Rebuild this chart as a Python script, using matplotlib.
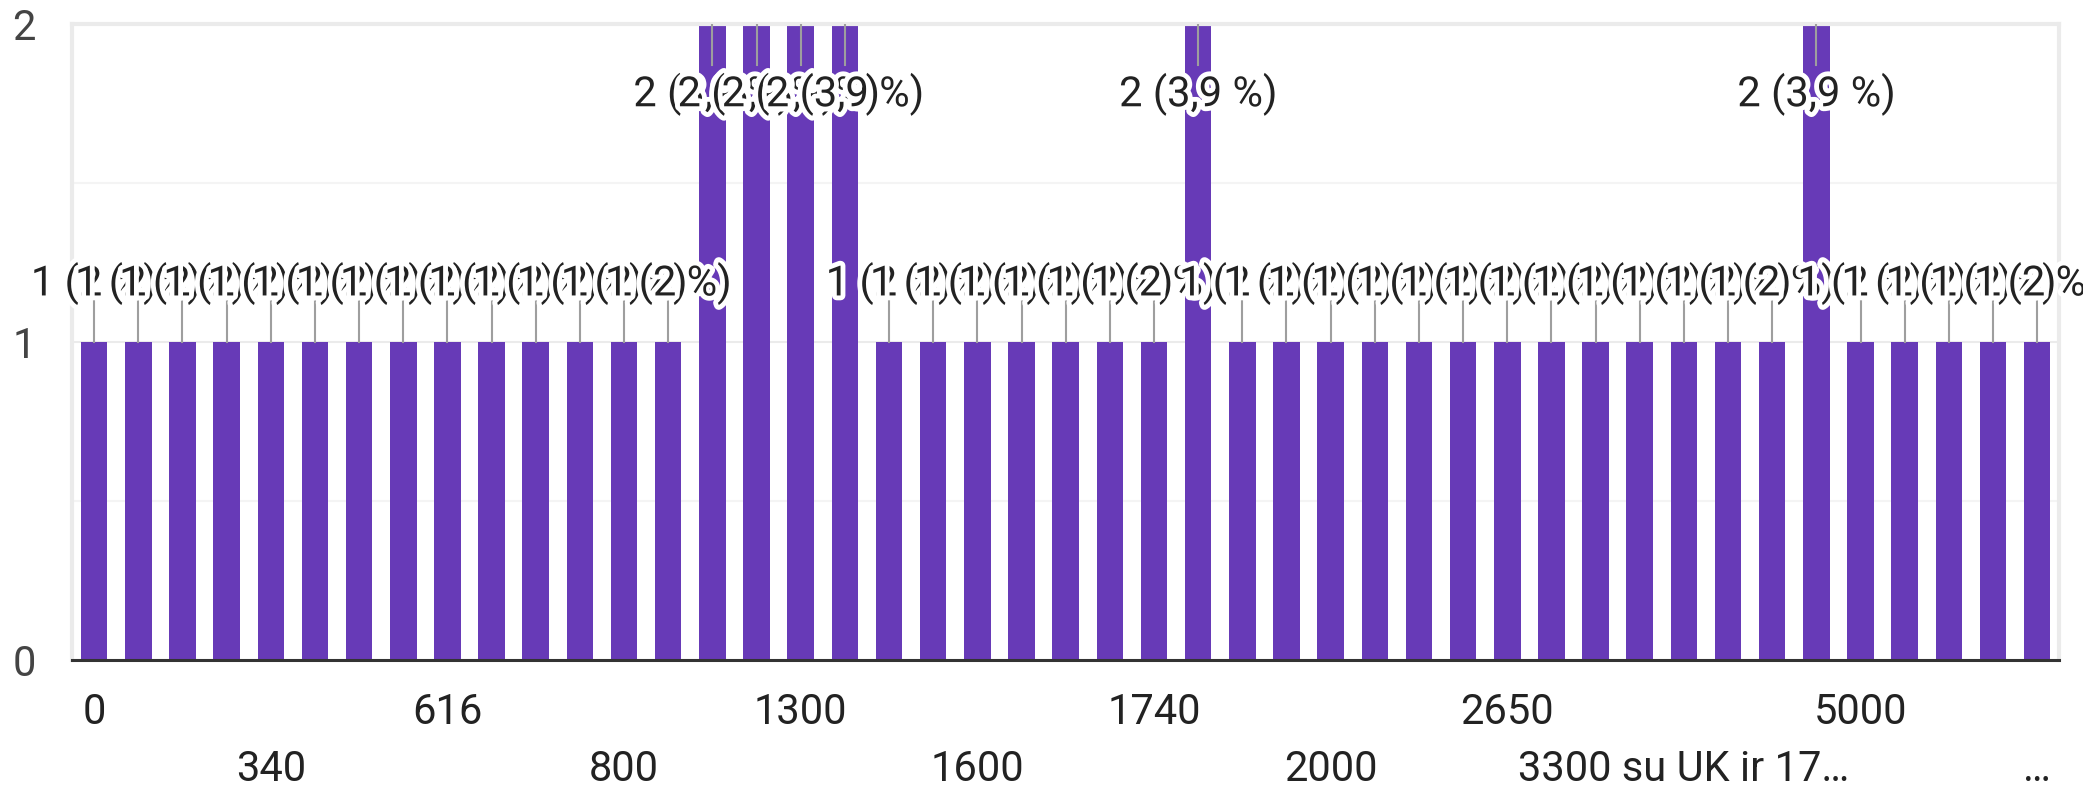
import matplotlib.pyplot as plt
import matplotlib.patheffects as pe
from matplotlib.ticker import MultipleLocator

plt.rcParams["font.family"] = ["Roboto", "DejaVu Sans"]

# answers (only every 4th label is readable on the chart)
categories = [
    "0", "50", "100", "150", "340", "400", "450", "500",
    "616", "650", "700", "750", "800", "1000", "1100", "1200",
    "1300", "1400", "1450", "1500", "1600", "1650", "1700", "1720",
    "1740", "1750", "1800", "1900", "2000", "2100", "2200", "2500",
    "2650", "2800", "3000", "3200", "3300 su UK ir 17…", "3500", "4000", "4500",
    "5000", "6000", "7000", "10000", "…",
]
counts = [
    1, 1, 1, 1, 1, 1, 1, 1, 1, 1, 1, 1, 1, 1, 2, 2,
    2, 2, 1, 1, 1, 1, 1, 1, 1, 2, 1, 1, 1, 1, 1, 1,
    1, 1, 1, 1, 1, 1, 1, 2, 1, 1, 1, 1, 1,
]
y_ticks = [0, 1, 2]

total = sum(counts)
ymax = max(y_ticks)

fig = plt.figure(figsize=(20.83, 7.87), dpi=100)
ax = fig.add_axes([0.0346, 0.1614, 0.954, 0.808])

xs = list(range(len(categories)))
ax.bar(xs, counts, width=0.6, color="#673ab7", zorder=2)

# value labels with stems, Google Forms style
halo = [pe.withStroke(linewidth=7, foreground="white")]
for i, c in enumerate(counts):
    pct = f"{c / total * 100:.1f}".replace(".0", "").replace(".", ",")
    label = f"{c} ({pct} %)"
    if c < ymax:
        stem_end, text_y = c + 0.13, c + 0.185
    else:
        stem_end, text_y = c - 0.13, c - 0.22
    ax.plot([i, i], [c, stem_end], color="#9e9e9e", lw=1.5, zorder=3)
    ax.text(i, text_y, label, ha="center", va="center", fontsize=30,
            color="#222222", zorder=4, path_effects=halo)

ax.set_xlim(-0.5, len(categories) - 0.5)
ax.set_ylim(0, ymax)

# y axis
ax.set_yticks(y_ticks)
ax.yaxis.set_minor_locator(MultipleLocator(0.5))
ax.grid(axis="y", which="major", color="#ebebeb", lw=1.5)
ax.grid(axis="y", which="minor", color="#f4f4f4", lw=1.5)
ax.set_axisbelow(True)
ax.tick_params(axis="y", which="both", length=0, pad=26, labelsize=30,
               labelcolor="#444444")

# x axis: every 4th label, alternating in two rows
row1 = xs[0::8]
row2 = xs[4::8]
ax.set_xticks(row1, [categories[i] for i in row1])
ax.set_xticks(row2, [categories[i] for i in row2], minor=True)
ax.tick_params(axis="x", which="major", length=0, pad=23, labelsize=30,
               labelcolor="#222222")
ax.tick_params(axis="x", which="minor", length=0, pad=64, labelsize=30,
               labelcolor="#222222")

for side in ["top", "left", "right"]:
    ax.spines[side].set_color("#ebebeb")
    ax.spines[side].set_linewidth(3)
ax.spines["bottom"].set_color("#333333")
ax.spines["bottom"].set_linewidth(2.2)
ax.spines["bottom"].set_zorder(5)

plt.savefig("out.png", dpi=100)
